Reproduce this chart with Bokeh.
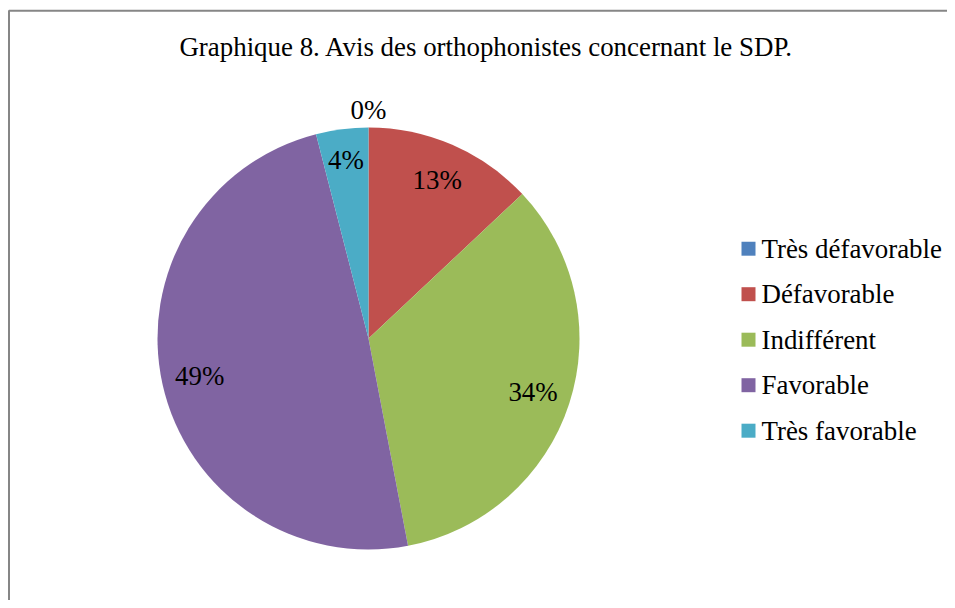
import math
from bokeh.plotting import figure
from bokeh.models import ColumnDataSource, Range1d
from bokeh.core.properties import value
from bokeh.embed import file_html
from bokeh.resources import INLINE

# ---- data ----
categories = ["Très défavorable", "Défavorable", "Indifférent", "Favorable", "Très favorable"]
percents = [0, 13, 34, 49, 4]
colors = ["#4F81BD", "#C0504D", "#9BBB59", "#8064A2", "#4BACC6"]
title_text = "Graphique 8. Avis des orthophonistes concernant le SDP."

# ---- layout (pixels) ----
W, H = 947, 600
FONT = value("Liberation Serif")
FS = "26.9px"
cx, cy, R = 368, H - 338, 211

p = figure(width=W, height=H, output_backend="svg", toolbar_location=None,
           x_range=Range1d(0, W), y_range=Range1d(0, H), min_border=0,
           outline_line_color=None)
p.axis.visible = False
p.grid.visible = False
p.background_fill_color = "white"
p.border_fill_color = "white"

# chart-area border (left and top visible)
p.line(x=[8.5, 8.5, W + 20], y=[-20, H - 10.3, H - 10.3], line_color="#868686", line_width=2)

# wedges
total = sum(percents)
starts, ends, mids = [], [], []
cum = 0.0
for v in percents:
    a0 = cum / total
    cum += v
    a1 = cum / total
    starts.append(math.pi / 2 - a0 * 2 * math.pi)
    ends.append(math.pi / 2 - a1 * 2 * math.pi)
    mids.append(math.pi / 2 - (a0 + a1) / 2 * 2 * math.pi)

idx = [i for i, v in enumerate(percents) if v > 0]
wsrc = ColumnDataSource(dict(
    start=[starts[i] for i in idx], end=[ends[i] for i in idx],
    color=[colors[i] for i in idx]))
p.wedge(x=cx, y=cy, radius=R, start_angle="start", end_angle="end",
        direction="clock", fill_color="color", line_color=None, source=wsrc)

# data labels
lx, ly, lt = [], [], []
for v, m in zip(percents, mids):
    r = 173 if v > 0 else 229
    if 0 < v < 6:
        r = 180
    lx.append(cx + r * math.cos(m))
    ly.append(cy + r * math.sin(m))
    lt.append(f"{v}%")
p.text(x=lx, y=ly, text=lt, text_font=FONT, text_font_size=FS,
       text_align="center", text_baseline="middle", text_color="black")

# title
p.text(x=[486], y=[H - 46], text=[title_text], text_font=FONT, text_font_size=FS,
       text_align="center", text_baseline="middle", text_color="black")

# legend
row0, step = H - 248.2, 45.5
ys = [row0 - i * step for i in range(len(categories))]
p.rect(x=[748] * len(categories), y=ys, width=14, height=14,
       fill_color=colors, line_color=None)
p.text(x=[761] * len(categories), y=ys, text=categories, text_font=FONT,
       text_font_size=FS, text_align="left", text_baseline="middle",
       text_color="black")

open("out.html", "w").write(file_html(p, INLINE))
